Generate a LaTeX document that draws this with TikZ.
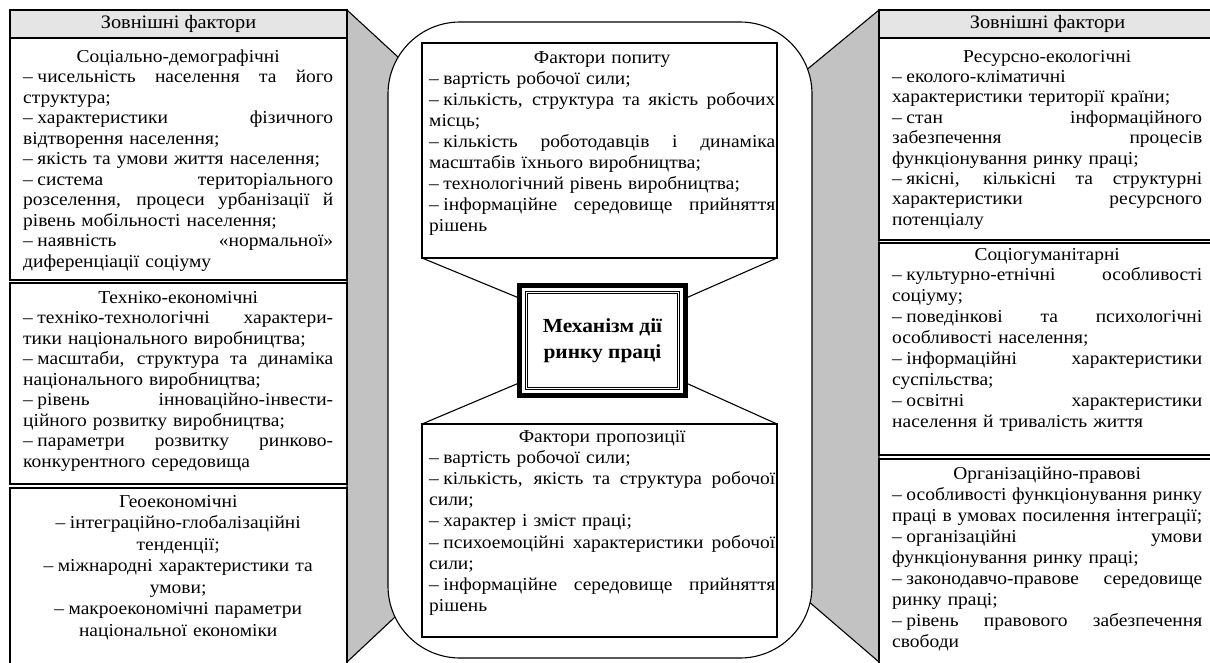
\documentclass[tikz,border=0pt]{standalone}
\usepackage{fontspec}
\setmainfont[FakeStretch=1.07]{Liberation Serif}
\usetikzlibrary{positioning}
\definecolor{headgray}{gray}{0.9}
\definecolor{sidegray}{gray}{0.76}
\newcommand{\jline}[1]{{\spaceskip=0.25em plus 4em minus 0.05em\xspaceskip=\spaceskip\makebox[\linewidth][s]{#1}}\par}
\newcommand{\mline}[1]{\makebox[\linewidth][c]{#1}\par}
\newcommand{\dsh}{–\hspace{0.25em}}

\begin{document}
\begin{tikzpicture}[x=1pt,y=-1pt,
  box/.style={draw,line width=1.1pt,inner sep=0pt,outer sep=0pt,anchor=north west},
  head/.style={box,fill=headgray,font=\fontsize{19}{20}\selectfont},
  txt/.style={anchor=base west,inner sep=0pt,text width=310pt,font=\fontsize{18.2}{#1}\selectfont},
  ctxt/.style={txt=#1,text width=346pt},
  side/.style={draw,line width=1.1pt,fill=sidegray},
  link/.style={line width=1.1pt}]
\useasboundingbox (0,0) rectangle (1210,662);
\clip (0,0) rectangle (1210,662);

\path[side] (347,10) -- (449,104) -- (443,572) -- (347,662) -- cycle;
\path[side] (879,10) -- (758,110) -- (758,558) -- (879,662) -- cycle;
\node[draw,line width=1.1pt,fill=white,rounded corners=72pt,minimum width=424,minimum height=636,inner sep=0pt] (frame) at (600,340) {};

\node[box,minimum width=355,minimum height=215] (dem) at (422,43) {};
\node[box,minimum width=355,minimum height=213] (sup) at (422,424) {};
\node[draw,line width=5pt,minimum width=166,minimum height=110,inner sep=0pt,outer sep=0pt] (mech) at (602.5,340.5) {};
\draw[double,double distance=1.4pt,line width=0.9pt] ([shift={(7pt,-7pt)}]mech.north west) rectangle ([shift={(-7pt,7pt)}]mech.south east);
\node[font=\bfseries\fontsize{20}{26}\selectfont,align=center] (mechtext) at (mech.center) {Механізм дії\\ринку праці};
\draw[link] (dem.south west) -- (mech.153);
\draw[link] (dem.south east) -- (mech.27);
\draw[link] (sup.north west) -- (mech.207);
\draw[link] (sup.north east) -- (mech.-27);

\node[ctxt=21.1] (demtext) at ([xshift=7pt,yshift=-20pt]dem.north west) {
\mline{Фактори попиту}
\dsh вартість робочої сили;\par
\jline{\dsh кількість, структура та якість робочих}
місць;\par
\jline{\dsh кількість роботодавців і динаміка}
масштабів їхнього виробництва;\par
\dsh технологічний рівень виробництва;\par
\jline{\dsh інформаційне середовище прийняття}
рішень\par};
\node[ctxt=21.2] (suptext) at ([xshift=7pt,yshift=-18pt]sup.north west) {
\mline{Фактори пропозиції}
\dsh вартість робочої сили;\par
\jline{\dsh кількість, якість та структура робочої}
сили;\par
\dsh характер і зміст праці;\par
\jline{\dsh психоемоційні характеристики робочої}
сили;\par
\jline{\dsh інформаційне середовище прийняття}
рішень\par};

\node[head,minimum width=337,minimum height=28] (hl) at (10,10) {Зовнішні фактори};
\node[box,minimum width=337,minimum height=242] (sd) at (10,38) {};
\node[box,minimum width=337,minimum height=201] (te) at (10,283) {};
\node[box,minimum width=337,minimum height=185] (ge) at (10,488) {};

\node[txt=20.5] (sdtext) at ([xshift=13pt,yshift=-24pt]sd.north west) {
\mline{Соціально-демографічні}
\jline{\dsh чисельність населення та його}
структура;\par
\jline{\dsh характеристики фізичного}
відтворення населення;\par
\dsh якість та умови життя населення;\par
\jline{\dsh система територіального}
\jline{розселення, процеси урбанізації й}
рівень мобільності населення;\par
\jline{\dsh наявність «нормальної»}
диференціації соціуму\par};
\node[txt=20.5] (tetext) at ([xshift=13pt,yshift=-20pt]te.north west) {
\mline{Техніко-економічні}
\jline{\dsh техніко-технологічні характери-}
тики національного виробництва;\par
\jline{\dsh масштаби, структура та динаміка}
національного виробництва;\par
\jline{\dsh рівень інноваційно-інвести-}
ційного розвитку виробництва;\par
\jline{\dsh параметри розвитку ринково-}
конкурентного середовища\par};
\node[txt=21.5] (getext) at ([xshift=13pt,yshift=-19pt]ge.north west) {
\mline{Геоекономічні}
\mline{\dsh інтеграційно-глобалізаційні}
\mline{тенденції;}
\mline{\dsh міжнародні характеристики та}
\mline{умови;}
\mline{\dsh макроекономічні параметри}
\mline{національної економіки}};

\node[head,minimum width=340,minimum height=28] (hr) at (879,10) {\hspace*{-3pt}Зовнішні фактори};
\node[box,minimum width=340,minimum height=202] (re) at (879,38) {};
\node[box,minimum width=340,minimum height=212] (sg) at (879,243) {};
\node[box,minimum width=340,minimum height=210] (op) at (879,459) {};

\node[txt=20.4] (retext) at ([xshift=13pt,yshift=-24pt]re.north west) {
\mline{Ресурсно-екологічні}
\dsh еколого-кліматичні\par
характеристики території країни;\par
\jline{\dsh стан інформаційного}
\jline{забезпечення процесів}
функціонування ринку праці;\par
\jline{\dsh якісні, кількісні та структурні}
\jline{характеристики ресурсного}
потенціалу\par};
\node[txt=20.9] (sgtext) at ([xshift=13pt,yshift=-17pt]sg.north west) {
\mline{Соціогуманітарні}
\jline{\dsh культурно-етнічні особливості}
соціуму;\par
\jline{\dsh поведінкові та психологічні}
особливості населення;\par
\jline{\dsh інформаційні характеристики}
суспільства;\par
\jline{\dsh освітні характеристики}
населення й тривалість життя\par};
\node[txt=21] (optext) at ([xshift=13pt,yshift=-20pt]op.north west) {
\mline{Організаційно-правові}
\jline{\dsh особливості функціонування ринку}
\jline{праці в умовах посилення інтеграції;}
\jline{\dsh організаційні умови}
функціонування ринку праці;\par
\jline{\dsh законодавчо-правове середовище}
ринку праці;\par
\jline{\dsh рівень правового забезпечення}
свободи\par};
\end{tikzpicture}
\end{document}
